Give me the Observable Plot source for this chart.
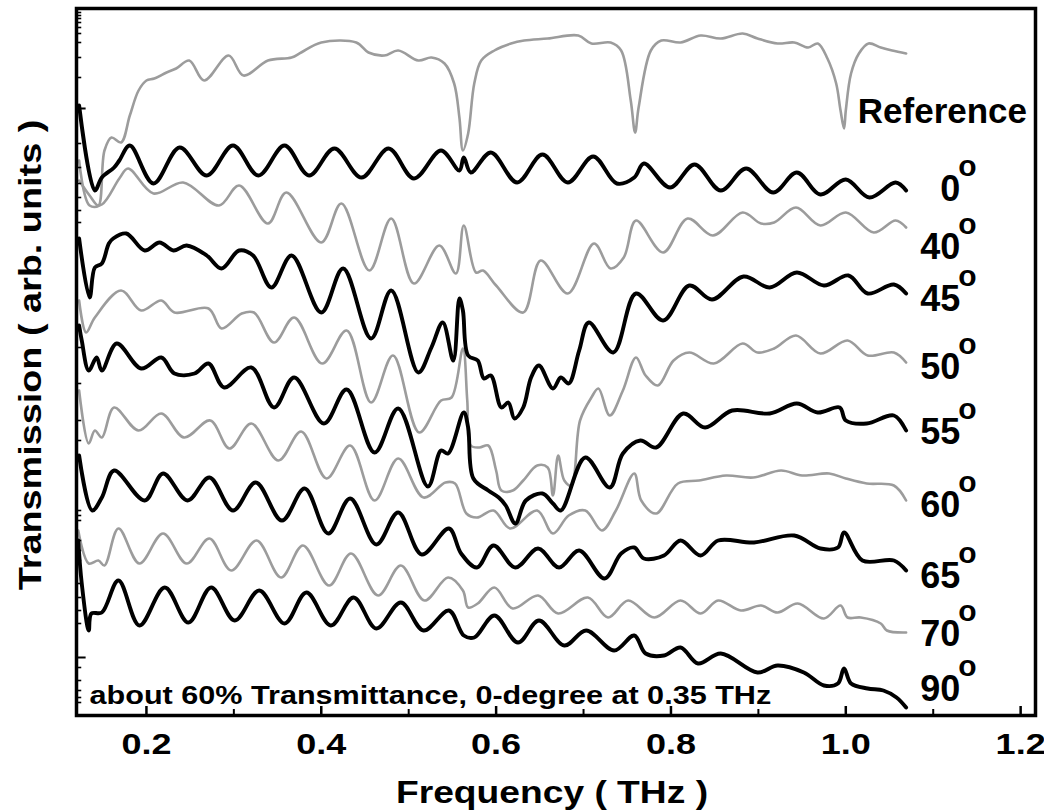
<!DOCTYPE html>
<html>
<head>
<meta charset="utf-8">
<script src="https://cdn.jsdelivr.net/npm/d3@7"></script>
<script src="https://cdn.jsdelivr.net/npm/@observablehq/plot@0.6"></script>
<style>
  html, body { margin: 0; padding: 0; background: #fff; }
  #chart { width: 1044px; height: 811px; }
  svg { font-family: "Liberation Sans", Arial, sans-serif; }
</style>
</head>
<body>
<div id="chart"></div>
<script>
// ---- data: [frequency (THz), transmission (arb. units, offset per angle)] ----
const refCurve = [[0.123,535],[0.135,520],[0.145,510],[0.152,565],[0.160,578],[0.171,573],[0.181,600],[0.191,625],[0.200,635],[0.209,637],[0.223,643],[0.234,647],[0.249,655],[0.266,635],[0.294,660],[0.311,640],[0.339,655],[0.366,658],[0.377,663],[0.400,673],[0.440,673],[0.454,663],[0.472,660],[0.488,665],[0.511,655],[0.526,658],[0.541,652],[0.552,632],[0.558,598],[0.562,565],[0.568,582],[0.575,632],[0.583,655],[0.598,665],[0.617,672],[0.632,675],[0.659,677],[0.694,680],[0.709,672],[0.731,673],[0.743,665],[0.754,615],[0.759,583],[0.763,608],[0.777,665],[0.789,675],[0.811,673],[0.834,680],[0.857,677],[0.882,682],[0.899,677],[0.922,672],[0.941,673],[0.957,668],[0.968,672],[0.979,657],[0.989,632],[0.994,605],[0.998,587],[1.000,605],[1.006,642],[1.015,662],[1.026,672],[1.040,668],[1.053,665],[1.069,662]];
const deg0 = [[0.123,610],[0.141,525],[0.149,538],[0.163,548],[0.169,555],[0.181,570],[0.208,532],[0.238,568],[0.269,540],[0.299,570],[0.328,540],[0.358,570],[0.386,540],[0.415,567],[0.446,538],[0.477,567],[0.506,537],[0.537,565],[0.558,545],[0.563,558],[0.571,543],[0.594,563],[0.624,533],[0.653,561],[0.682,533],[0.711,559],[0.738,532],[0.758,538],[0.769,552],[0.799,528],[0.827,551],[0.857,525],[0.886,547],[0.917,523],[0.944,543],[0.971,521],[1.000,536],[1.027,518],[1.057,533],[1.069,525]];
const deg40 = [[0.123,555],[0.135,510],[0.149,511],[0.169,537],[0.179,547],[0.208,522],[0.242,533],[0.283,510],[0.306,530],[0.339,492],[0.360,523],[0.400,473],[0.423,512],[0.455,445],[0.480,497],[0.506,432],[0.535,470],[0.554,442],[0.563,490],[0.577,443],[0.585,445],[0.600,430],[0.631,403],[0.651,455],[0.682,422],[0.712,472],[0.731,447],[0.746,458],[0.760,495],[0.791,463],[0.819,497],[0.848,480],[0.882,503],[0.903,492],[0.918,493],[0.943,508],[0.971,490],[1.000,503],[1.032,483],[1.057,495],[1.069,488]];
const deg45 = [[0.123,477],[0.135,418],[0.141,448],[0.149,452],[0.157,472],[0.162,477],[0.177,482],[0.198,465],[0.215,473],[0.231,465],[0.246,470],[0.269,460],[0.286,447],[0.306,465],[0.322,460],[0.343,428],[0.366,460],[0.400,403],[0.425,447],[0.457,377],[0.480,425],[0.511,343],[0.526,368],[0.539,393],[0.551,355],[0.558,417],[0.562,405],[0.568,360],[0.579,355],[0.586,337],[0.594,340],[0.606,308],[0.614,313],[0.621,297],[0.631,308],[0.640,338],[0.649,350],[0.665,327],[0.674,338],[0.683,332],[0.695,365],[0.706,393],[0.734,363],[0.760,422],[0.791,395],[0.821,430],[0.847,416],[0.883,439],[0.913,428],[0.944,443],[0.975,430],[1.003,440],[1.025,422],[1.055,431],[1.069,422]];
const deg50 = [[0.123,415],[0.131,383],[0.141,398],[0.171,425],[0.194,405],[0.217,415],[0.232,403],[0.271,407],[0.286,387],[0.309,402],[0.323,403],[0.346,373],[0.369,398],[0.401,352],[0.429,385],[0.457,313],[0.482,360],[0.512,283],[0.537,315],[0.549,318],[0.562,367],[0.567,315],[0.571,270],[0.581,268],[0.591,270],[0.600,245],[0.606,225],[0.619,225],[0.631,235],[0.647,250],[0.659,248],[0.665,220],[0.671,260],[0.678,235],[0.686,230],[0.696,295],[0.709,318],[0.717,327],[0.730,300],[0.745,325],[0.760,358],[0.771,340],[0.785,330],[0.803,355],[0.821,363],[0.849,352],[0.882,372],[0.899,363],[0.918,367],[0.943,380],[0.971,362],[1.002,375],[1.025,360],[1.055,363],[1.069,353]];
const deg55 = [[0.123,390],[0.126,375],[0.134,345],[0.143,358],[0.149,345],[0.166,372],[0.194,347],[0.217,358],[0.232,342],[0.255,342],[0.271,352],[0.289,328],[0.320,348],[0.346,308],[0.369,338],[0.403,292],[0.429,326],[0.461,263],[0.488,307],[0.522,229],[0.537,265],[0.545,262],[0.563,303],[0.568,288],[0.574,237],[0.591,225],[0.603,218],[0.611,210],[0.622,192],[0.634,215],[0.653,222],[0.665,212],[0.674,205],[0.702,258],[0.730,228],[0.745,262],[0.765,275],[0.783,268],[0.814,302],[0.839,288],[0.870,305],[0.913,302],[0.944,312],[0.968,303],[0.993,308],[1.000,295],[1.024,292],[1.055,300],[1.069,285]];
const deg60 = [[0.123,325],[0.134,272],[0.141,285],[0.149,278],[0.163,308],[0.191,285],[0.217,302],[0.243,278],[0.273,295],[0.295,267],[0.320,292],[0.351,255],[0.377,284],[0.406,237],[0.433,270],[0.461,215],[0.488,257],[0.517,218],[0.542,233],[0.553,232],[0.566,202],[0.578,198],[0.597,205],[0.616,187],[0.647,205],[0.665,182],[0.683,200],[0.702,205],[0.721,185],[0.737,205],[0.758,242],[0.766,215],[0.783,202],[0.808,232],[0.832,235],[0.863,240],[0.894,238],[0.926,245],[0.950,240],[0.981,242],[1.000,237],[1.024,232],[1.055,230],[1.069,215]];
const deg65 = [[0.123,260],[0.138,205],[0.149,218],[0.163,245],[0.198,215],[0.219,242],[0.247,215],[0.272,238],[0.299,205],[0.325,233],[0.355,195],[0.381,227],[0.408,182],[0.433,217],[0.463,171],[0.488,203],[0.515,161],[0.546,187],[0.560,162],[0.578,148],[0.597,170],[0.622,148],[0.648,167],[0.672,148],[0.695,165],[0.724,137],[0.743,162],[0.758,168],[0.769,157],[0.792,160],[0.811,175],[0.834,160],[0.854,175],[0.895,173],[0.941,180],[0.971,167],[0.991,168],[0.998,183],[1.019,155],[1.055,155],[1.069,145]];
const deg70 = [[0.122,185],[0.134,152],[0.145,155],[0.152,150],[0.168,187],[0.192,152],[0.219,182],[0.246,152],[0.272,177],[0.297,145],[0.326,175],[0.354,138],[0.379,170],[0.409,130],[0.434,162],[0.465,120],[0.491,150],[0.518,115],[0.545,138],[0.562,125],[0.568,108],[0.579,112],[0.598,128],[0.619,107],[0.648,120],[0.671,102],[0.705,118],[0.728,98],[0.751,115],[0.781,98],[0.811,115],[0.834,102],[0.854,115],[0.880,105],[0.903,110],[0.922,103],[0.945,112],[0.975,97],[0.994,110],[1.002,98],[1.017,98],[1.040,92],[1.047,85],[1.069,83]];
const deg90 = [[0.122,175],[0.126,132],[0.134,85],[0.137,102],[0.149,103],[0.168,135],[0.192,90],[0.221,128],[0.248,93],[0.274,128],[0.301,95],[0.329,125],[0.358,92],[0.383,123],[0.411,90],[0.437,118],[0.463,87],[0.491,113],[0.517,85],[0.546,105],[0.563,80],[0.575,78],[0.598,100],[0.625,73],[0.649,95],[0.678,70],[0.703,85],[0.735,65],[0.758,80],[0.771,62],[0.792,60],[0.811,68],[0.831,52],[0.857,62],[0.899,43],[0.922,50],[0.952,43],[0.975,30],[0.991,32],[0.998,47],[1.006,32],[1.025,27],[1.043,25],[1.058,18],[1.069,8]];

const seriesNames = ["Reference", "0", "40", "45", "50", "55", "60", "65", "70", "90"];
const seriesTone  = ["gray", "black", "gray", "black", "gray", "black", "gray", "black", "gray", "black"];
const seriesData  = [refCurve, deg0, deg40, deg45, deg50, deg55, deg60, deg65, deg70, deg90];

// angle labels (text, anchor value in arb. units)
const angleLabels = ["0", "40", "45", "50", "55", "60", "65", "70", "90"];
const angleLabelValue = [515, 457, 405, 337, 272, 199, 128, 70, 15];

const xTicksMajor = [0.2, 0.4, 0.6, 0.8, 1.0, 1.2];
const xTicksMinor = [0.3, 0.5, 0.7, 0.9, 1.1];
const yTicksMajor = [607, 58];
const yTicksMinor = [703, 700, 697, 693, 688, 682, 673, 658, 638, 572, 548, 532, 518, 505, 493, 385, 368, 332, 295, 275, 205, 200, 195, 175, 165, 155, 132, 118, 105, 92, 48, 35, 25, 18, 13];

const xLabel = "Frequency ( THz )";
const yLabel = "Transmission ( arb. units )";
const note = "about 60% Transmittance, 0-degree at 0.35 THz";

// ---- build tidy rows ----
const rows = seriesNames.flatMap((name, i) =>
  seriesData[i].map(([f, v]) => ({ name, tone: seriesTone[i], f, v })));
const grayRows = rows.filter(d => d.tone === "gray");
const blackRows = rows.filter(d => d.tone === "black");
const labelRows = angleLabels.map((t, i) => ({ t, f: 1.131, v: angleLabelValue[i] }));

const FONT = "Liberation Sans, Arial, sans-serif";

const chart = Plot.plot({
  width: 1044,
  height: 811,
  marginLeft: 76,
  marginRight: 9,
  marginTop: 8,
  marginBottom: 96,
  style: { fontFamily: FONT, background: "white", overflow: "visible" },
  x: { domain: [0.12, 1.217], axis: null },
  y: { domain: [0, 707], axis: null },
  marks: [
    Plot.line(grayRows, { x: "f", y: "v", z: "name", stroke: "#9c9c9c", strokeWidth: 2.6, curve: "catmull-rom", strokeLinejoin: "round" }),
    Plot.line(blackRows, { x: "f", y: "v", z: "name", stroke: "#000", strokeWidth: 3.9, curve: "catmull-rom", strokeLinejoin: "round" }),
    // inward ticks
    Plot.ruleX(xTicksMajor, { x: d => d, y1: 0, y2: 9, stroke: "#000", strokeWidth: 2.5 }),
    Plot.ruleX(xTicksMinor, { x: d => d, y1: 0, y2: 6, stroke: "#000", strokeWidth: 2 }),
    Plot.ruleY(yTicksMajor, { y: d => d, x1: 0.12, x2: 0.131, stroke: "#000", strokeWidth: 2 }),
    Plot.ruleY(yTicksMinor, { y: d => d, x1: 0.12, x2: 0.126, stroke: "#000", strokeWidth: 1.6 }),
    Plot.frame({ stroke: "#000", strokeWidth: 3.5 }),
    // x tick labels
    Plot.text(xTicksMajor, { x: d => d, frameAnchor: "bottom", text: d => d.toFixed(1), dy: 38, lineAnchor: "bottom", fontSize: 30, fontWeight: "bold", fill: "#000" }),
    // axis titles
    Plot.text([xLabel], { frameAnchor: "bottom", dx: -4, dy: 87, textAnchor: "middle", lineAnchor: "bottom", fontSize: 31, fontWeight: "bold", fill: "#000" }),
    Plot.text([yLabel], { frameAnchor: "left", rotate: -90, dx: -45, dy: -7, textAnchor: "middle", lineAnchor: "middle", fontSize: 31, fontWeight: "bold", fill: "#000" }),
    // annotations
    Plot.text(["Reference"], { x: 1.0137, y: 593, textAnchor: "start", lineAnchor: "bottom", fontSize: 35, fontWeight: "bold", fill: "#000" }),
    Plot.text(labelRows, { x: "f", y: "v", text: "t", textAnchor: "end", lineAnchor: "bottom", fontSize: 36, fontWeight: "bold", fill: "#000" }),
    Plot.text(labelRows, { x: "f", y: "v", text: () => "o", textAnchor: "start", lineAnchor: "bottom", dx: -2, dy: -25, fontSize: 30, fontWeight: "bold", fill: "#000" }),
    Plot.text([note], { x: 0.1349, y: 12, textAnchor: "start", lineAnchor: "bottom", fontSize: 25.5, fontWeight: "bold", fill: "#000" })
  ]
});

document.getElementById("chart").appendChild(chart);

// the original artwork's axis lettering is horizontally widened; widen glyphs about their anchor
const widen = new Map([[xLabel, 1.2], [yLabel, 1.22], [note, 1.2]]);
xTicksMajor.forEach(t => widen.set(t.toFixed(1), 1.2));
d3.select(chart).selectAll("text").each(function () {
  const s = widen.get(this.textContent);
  if (!s) return;
  const ax = parseFloat(this.getAttribute("x") || "0");
  const tr = this.getAttribute("transform") || "";
  this.setAttribute("transform", `${tr} translate(${ax},0) scale(${s},1) translate(${-ax},0)`);
});
</script>
</body>
</html>
